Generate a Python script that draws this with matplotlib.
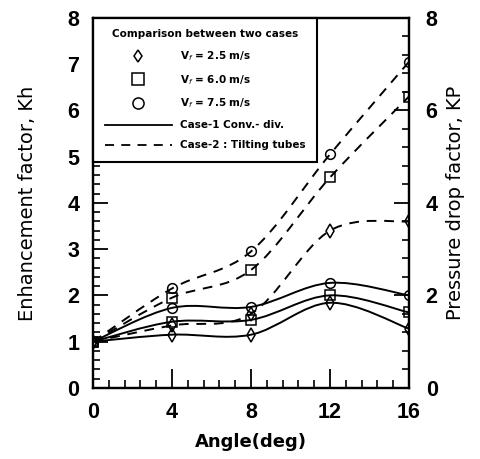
import matplotlib
matplotlib.use("Agg")
import matplotlib.pyplot as plt
import numpy as np
from matplotlib.lines import Line2D
from matplotlib.path import Path
from matplotlib.patches import PathPatch
from matplotlib.ticker import MultipleLocator

# angle of tubes (deg)
angle = [0, 4, 8, 12, 16]

# Case-1 : convergent-divergent (solid)
case1_v25 = [1.0, 1.15, 1.15, 1.84, 1.28]
case1_v60 = [1.0, 1.43, 1.47, 2.00, 1.63]
case1_v75 = [1.0, 1.73, 1.75, 2.27, 2.00]

# Case-2 : tilting tubes (dashed)
case2_v25 = [1.0, 1.35, 1.60, 3.40, 3.60]
case2_v60 = [1.0, 1.95, 2.55, 4.55, 6.30]
case2_v75 = [1.0, 2.15, 2.95, 5.05, 7.05]

tick_font = ["Liberation Sans", "DejaVu Sans"]


def smooth_path(xs, ys):
    # catmull-rom through the points, drawn as bezier segments
    pts = np.column_stack([xs, ys]).astype(float)
    ext = np.vstack([pts[0], pts, pts[-1]])
    verts = [pts[0]]
    codes = [Path.MOVETO]
    for i in range(1, len(ext) - 2):
        p0, p1, p2, p3 = ext[i - 1], ext[i], ext[i + 1], ext[i + 2]
        verts += [p1 + (p2 - p0) / 6, p2 - (p3 - p1) / 6, p2]
        codes += [Path.CURVE4] * 3
    return Path(verts, codes)


fig = plt.figure(figsize=(4.8, 4.59), dpi=100)
ax = fig.add_axes([0.194, 0.155, 0.658, 0.806])
ax2 = ax.twinx()

for ys, m in [(case1_v25, "d"), (case1_v60, "s"), (case1_v75, "o")]:
    ax.add_patch(PathPatch(smooth_path(angle, ys), fill=False, lw=1.4, ec="black"))
    ax.plot(angle, ys, ls="none", marker=m, ms=7, mfc="none", mec="black", mew=1.1)

for ys, m in [(case2_v25, "d"), (case2_v60, "s"), (case2_v75, "o")]:
    ax.add_patch(PathPatch(smooth_path(angle, ys), fill=False, lw=1.4, ec="black",
                           ls=(0, (5, 4))))
    ax.plot(angle, ys, ls="none", marker=m, ms=7, mfc="none", mec="black", mew=1.1)

ax.set_xlim(0, 16)
ax.set_ylim(0, 8)
ax2.set_ylim(0, 8)

ax.xaxis.set_major_locator(MultipleLocator(4))
ax.xaxis.set_minor_locator(MultipleLocator(0.8))
ax.yaxis.set_major_locator(MultipleLocator(1))
ax.yaxis.set_minor_locator(MultipleLocator(0.2))
ax2.yaxis.set_major_locator(MultipleLocator(2))
ax2.yaxis.set_minor_locator(MultipleLocator(0.4))

ax.tick_params(axis="x", which="major", direction="in", length=14, width=1.3, pad=10)
ax.tick_params(axis="x", which="minor", direction="in", length=6, width=1.2)
ax.tick_params(axis="y", which="major", direction="in", length=11, width=1.3, pad=10)
ax.tick_params(axis="y", which="minor", direction="in", length=5, width=1.2)
ax2.tick_params(axis="y", which="major", direction="in", length=11, width=1.3, pad=12)
ax2.tick_params(axis="y", which="minor", direction="in", length=5, width=1.2)

for a in (ax, ax2):
    for s in a.spines.values():
        s.set_linewidth(1.6)
    for lab in a.get_xticklabels() + a.get_yticklabels():
        lab.set_fontfamily(tick_font)
        lab.set_fontweight("bold")
        lab.set_fontsize(15.5)

ax.set_xlabel("Angle(deg)", fontsize=13, fontweight="bold")
ax.set_ylabel("Enhancement factor, Kh", fontsize=14)
ax2.set_ylabel("Pressure drop factor, KP", fontsize=14)
ax.xaxis.set_label_coords(0.5, -0.146)
ax.yaxis.set_label_coords(-0.209, 0.5)
ax2.yaxis.set_label_coords(1.146, 0.5)
ax.xaxis.label.set_va("center")
ax.yaxis.label.set_va("center")
ax2.yaxis.label.set_va("center")

handles = [
    Line2D([], [], ls="none", marker="d", ms=6, mfc="none", mec="black", mew=1.1),
    Line2D([], [], ls="none", marker="s", ms=8, mfc="none", mec="black", mew=1.1),
    Line2D([], [], ls="none", marker="o", ms=8, mfc="none", mec="black", mew=1.1),
    Line2D([], [], color="black", lw=1.3),
    Line2D([], [], color="black", lw=1.3, ls=(0, (5, 4))),
]
labels = ["V$_f$ = 2.5 m/s", "V$_f$ = 6.0 m/s", "V$_f$ = 7.5 m/s",
          "Case-1 Conv.- div.", "Case-2 : Tilting tubes"]
leg = ax.legend(handles, labels, loc="upper left", borderaxespad=0,
                title="Comparison between two cases", handlelength=6.5,
                prop={"size": 7.5, "weight": "bold"}, fancybox=False,
                edgecolor="black", framealpha=1, labelspacing=0.95,
                borderpad=1.1, handletextpad=0.7)
leg.get_title().set_fontweight("bold")
leg.get_title().set_fontsize(7.5)
leg.get_frame().set_linewidth(1.5)

fig.savefig("out.png", dpi=100)
